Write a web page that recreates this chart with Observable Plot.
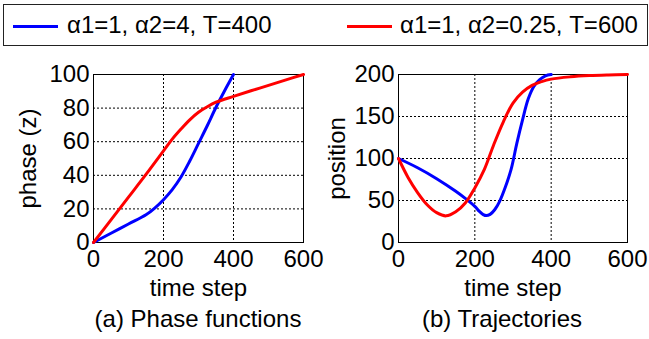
<!DOCTYPE html>
<html>
<head>
<meta charset="utf-8">
<script src="https://cdn.jsdelivr.net/npm/d3@7"></script>
<script src="https://cdn.jsdelivr.net/npm/@observablehq/plot@0.6"></script>
<style>
  html, body { margin: 0; padding: 0; background: white; }
  body { width: 649px; height: 339px; position: relative; overflow: hidden;
         font-family: "Liberation Sans", Arial, Helvetica, sans-serif; font-size: 24px; color: black; }
  .abs { position: absolute; white-space: nowrap; line-height: 24px; }
  #legend { position: absolute; left: 3px; top: 4px; width: 645px; height: 42px; box-sizing: border-box;
            border: 1.5px solid #222; }
  .swatch { position: absolute; height: 3px; }
  .cap { position: absolute; text-align: center; line-height: 24px; white-space: nowrap; }
</style>
</head>
<body>
<div id="legend"></div>
<div id="p1" style="position:absolute;left:0;top:50px;"></div>
<div id="p2" style="position:absolute;left:320px;top:50px;"></div>
<script>
// ---- data ----
const seriesNames = ["α1=1, α2=4, T=400", "α1=1, α2=0.25, T=600"];
const seriesColors = ["#0000ff", "#ff0000"];
const captions = ["(a) Phase functions", "(b) Trajectories"];

const xTicks = [0, 200, 400, 600];
const phaseTicks = [0, 20, 40, 60, 80, 100];
const posTicks = [0, 50, 100, 150, 200];

// phase functions
const phaseBlueT = [0, 50, 100, 150, 175, 200, 225, 250, 275, 300, 325, 350, 375, 400];
const phaseBlueZ = [0, 5.5, 11, 16.5, 20.5, 25.5, 31.5, 39, 48.5, 59, 69.5, 80.5, 90.5, 100];
const phaseRedT = [0, 50, 100, 150, 200, 225, 250, 275, 300, 325, 350, 400, 450, 500, 550, 600];
const phaseRedZ = [0, 13.5, 27, 40.5, 54.5, 61.5, 67.5, 73, 77.5, 80.8, 83.5, 87, 90.3, 93.5, 96.8, 100];

// trajectories
const trajBlueT = [0, 50, 100, 150, 175, 200, 212, 222, 230, 240, 252, 265, 280, 295, 310, 325, 340, 355, 370, 385, 400];
const trajBlueP = [100, 89, 76, 61, 52.5, 43, 37, 33.2, 32, 33.5, 39, 49, 66, 87, 118, 146, 171, 186, 194, 198.5, 200];
const trajRedT = [0, 25, 50, 75, 100, 125, 150, 175, 200, 225, 250, 275, 300, 325, 350, 375, 400, 450, 500, 550, 600];
const trajRedP = [100, 77.5, 59.5, 45, 35.5, 31.7, 36.5, 47, 65, 87, 117, 144, 166, 179, 187, 191.5, 194.5, 197.2, 198.7, 199.5, 200];

// ---- build ----
const font = '"Liberation Sans", Arial, Helvetica, sans-serif';
const zip = (ts, vs, s) => ts.map((t, i) => ({t, v: vs[i], s}));

function makePlot(opts) {
  const data = [...zip(opts.bT, opts.bV, 0), ...zip(opts.rT, opts.rV, 1)];
  return Plot.plot({
    width: opts.width, height: 289,
    marginLeft: opts.ml, marginRight: opts.mr, marginTop: 24, marginBottom: 97,
    style: {fontFamily: font, fontSize: "24px", color: "black", background: "transparent", overflow: "visible"},
    x: {domain: [0, 600], ticks: xTicks, tickSize: 0, tickPadding: 7, label: "time step", labelAnchor: "center", labelArrow: "none", labelOffset: 53},
    y: {domain: opts.ydomain, ticks: opts.yticks, tickSize: 0, tickPadding: 4, label: opts.ylabel, labelAnchor: "center", labelArrow: "none", labelOffset: opts.ylo},
    marks: [
      Plot.gridX(xTicks.slice(1, -1), {stroke: "black", strokeOpacity: 1, strokeWidth: 1, strokeDasharray: "2,2"}),
      Plot.gridY(opts.yticks.slice(1, -1), {stroke: "black", strokeOpacity: 1, strokeWidth: 1, strokeDasharray: "2,2"}),
      Plot.frame({stroke: "black", strokeWidth: 1}),
      Plot.line(data, {x: "t", y: "v", z: "s", stroke: d => seriesColors[d.s], strokeWidth: 3, curve: "catmull-rom"})
    ]
  });
}

document.getElementById("p1").append(makePlot({
  width: 320, ml: 93, mr: 17, ydomain: [0, 100], yticks: phaseTicks, ylabel: "phase (z)", ylo: 75,
  bT: phaseBlueT, bV: phaseBlueZ, rT: phaseRedT, rV: phaseRedZ
}));
document.getElementById("p2").append(makePlot({
  width: 329, ml: 78, mr: 22, ydomain: [0, 200], yticks: posTicks, ylabel: "position", ylo: 71,
  bT: trajBlueT, bV: trajBlueP, rT: trajRedT, rV: trajRedP
}));

// legend
const legendPos = [{sx: 13, tx: 67}, {sx: 347, tx: 400}];
seriesNames.forEach((name, i) => {
  const sw = document.createElement("div");
  sw.className = "swatch";
  sw.style.left = legendPos[i].sx + "px";
  sw.style.top = "24.5px";
  sw.style.width = "45px";
  sw.style.background = seriesColors[i];
  document.body.append(sw);
  const tx = document.createElement("div");
  tx.className = "abs";
  tx.style.left = legendPos[i].tx + "px";
  tx.style.top = "12.5px";
  tx.textContent = name;
  document.body.append(tx);
});

// captions
const capCenters = [198, 502];
captions.forEach((c, i) => {
  const d = document.createElement("div");
  d.className = "cap";
  d.style.left = (capCenters[i] - 150) + "px";
  d.style.width = "300px";
  d.style.top = "307px";
  d.textContent = c;
  document.body.append(d);
});
</script>
</body>
</html>
